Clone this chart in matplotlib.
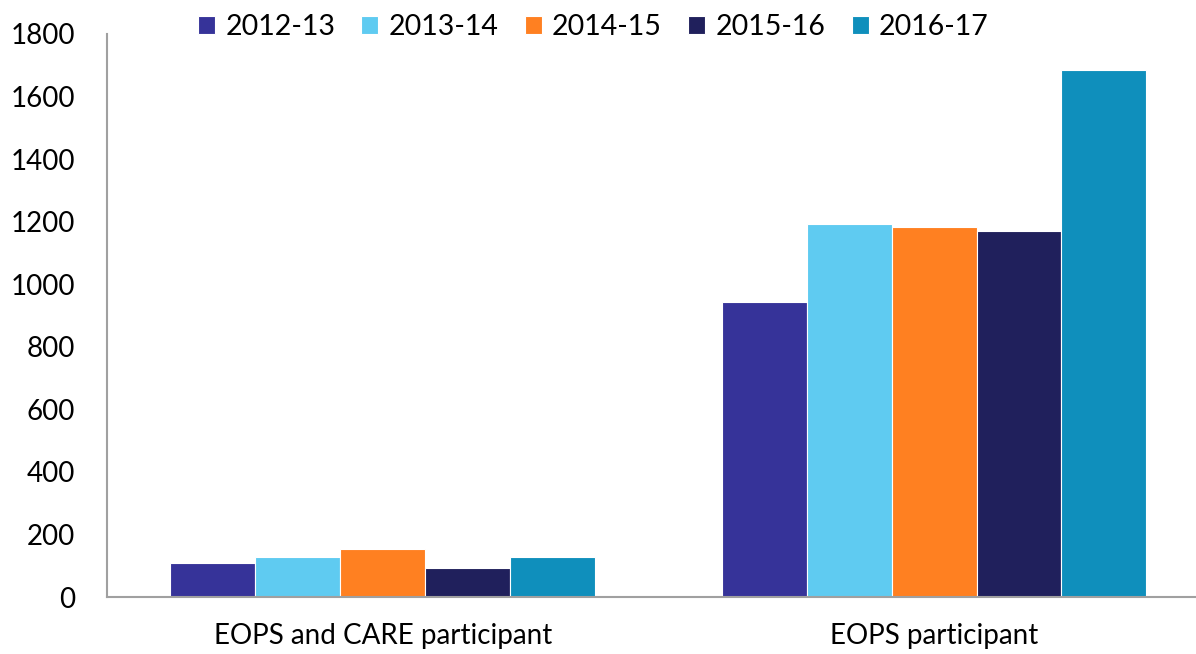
import matplotlib
matplotlib.use("Agg")
import matplotlib.pyplot as plt
import numpy as np

categories = ["EOPS and CARE participant", "EOPS participant"]
series_names = ["2012-13", "2013-14", "2014-15", "2015-16", "2016-17"]
values_2012_13 = [108, 943]
values_2013_14 = [127, 1192]
values_2014_15 = [152, 1182]
values_2015_16 = [93, 1170]
values_2016_17 = [129, 1685]
colors = ["#363399", "#5FCBF1", "#FF8021", "#20205C", "#0F8FBC"]
y_ticks = [0, 200, 400, 600, 800, 1000, 1200, 1400, 1600, 1800]

series = [values_2012_13, values_2013_14, values_2014_15, values_2015_16, values_2016_17]

plt.rcParams['font.family'] = ['Lato', 'DejaVu Sans']

fig = plt.figure(figsize=(11.96, 6.54), dpi=100)
ax = fig.add_axes([107/1196, 1 - 597/654, 1 - 107/1196, (597 - 34)/654])

x = np.arange(len(categories))
w = 0.154
handles = []
for i, (name, vals) in enumerate(zip(series_names, series)):
    b = ax.bar(x + (i - 2) * w, vals, width=w, color=colors[i],
               edgecolor="white", linewidth=0.8, label=name)
    handles.append(b)

ax.set_xlim(-0.5, 1.475)
ax.set_ylim(0, 1800)
ax.set_yticks(y_ticks)
ax.set_yticklabels([str(t) for t in y_ticks])
ax.set_xticks(x)
ax.set_xticklabels(categories)
ax.tick_params(axis='y', length=0, pad=23, labelsize=20)
ax.tick_params(axis='x', length=0, pad=19, labelsize=20)
for s in ["top", "right"]:
    ax.spines[s].set_visible(False)
for s in ["left", "bottom"]:
    ax.spines[s].set_color("#a0a0a0")
    ax.spines[s].set_linewidth(1.5)

fig.legend(handles=handles, labels=series_names, loc="center", ncol=5,
           bbox_to_anchor=(0.496, 0.959), frameon=False, fontsize=20.5,
           handlelength=0.6, handleheight=0.6, handletextpad=0.36,
           columnspacing=0.92, borderpad=0)

fig.savefig("out.png", dpi=100)
